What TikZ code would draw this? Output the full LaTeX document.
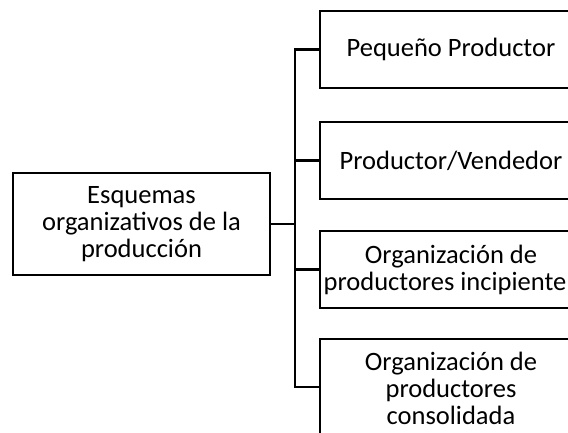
\documentclass[tikz,border=0pt]{standalone}
\usepackage{fontspec}
\setmainfont{Carlito}
\tikzstyle{box}=[draw, align=center, minimum width=262pt, inner sep=2pt, font=\fontsize{26.5}{27}\selectfont]

\begin{document}
\begin{tikzpicture}[x=1pt, y=-1pt, line width=2.5pt]
    \useasboundingbox (0,0) rectangle (568,433);
    \clip (0,0) rectangle (568,433);
% Boxes
    \node[box, minimum width=257pt, minimum height=102pt] (esq) at (141.5,224) {Esquemas\\organizativos de la\\producción};
    \node[box, minimum height=77pt] (peq) at (451,49.5) {Pequeño Productor};
    \node[box, minimum height=77pt] (vend) at (451,160.5) {Productor/Vendedor};
    \node[box, minimum height=77pt] (inc) at (451,269.5) {Organización de\\productores incipiente\hspace*{12pt}};
    \node[box, minimum height=98pt] (cons) at (451,388) {Organización de\\productores\\consolidada};
% Trunk
    \coordinate (top) at (295,49.5);
    \coordinate (bot) at (295,387);
    \draw (peq.west) -- (top) -- (bot) -- (bot -| cons.west);
    \draw (esq.east) -- (esq.east -| top);
    \draw (vend.west) -- (vend.west -| top);
    \draw (inc.west) -- (inc.west -| top);
\end{tikzpicture}
\end{document}
